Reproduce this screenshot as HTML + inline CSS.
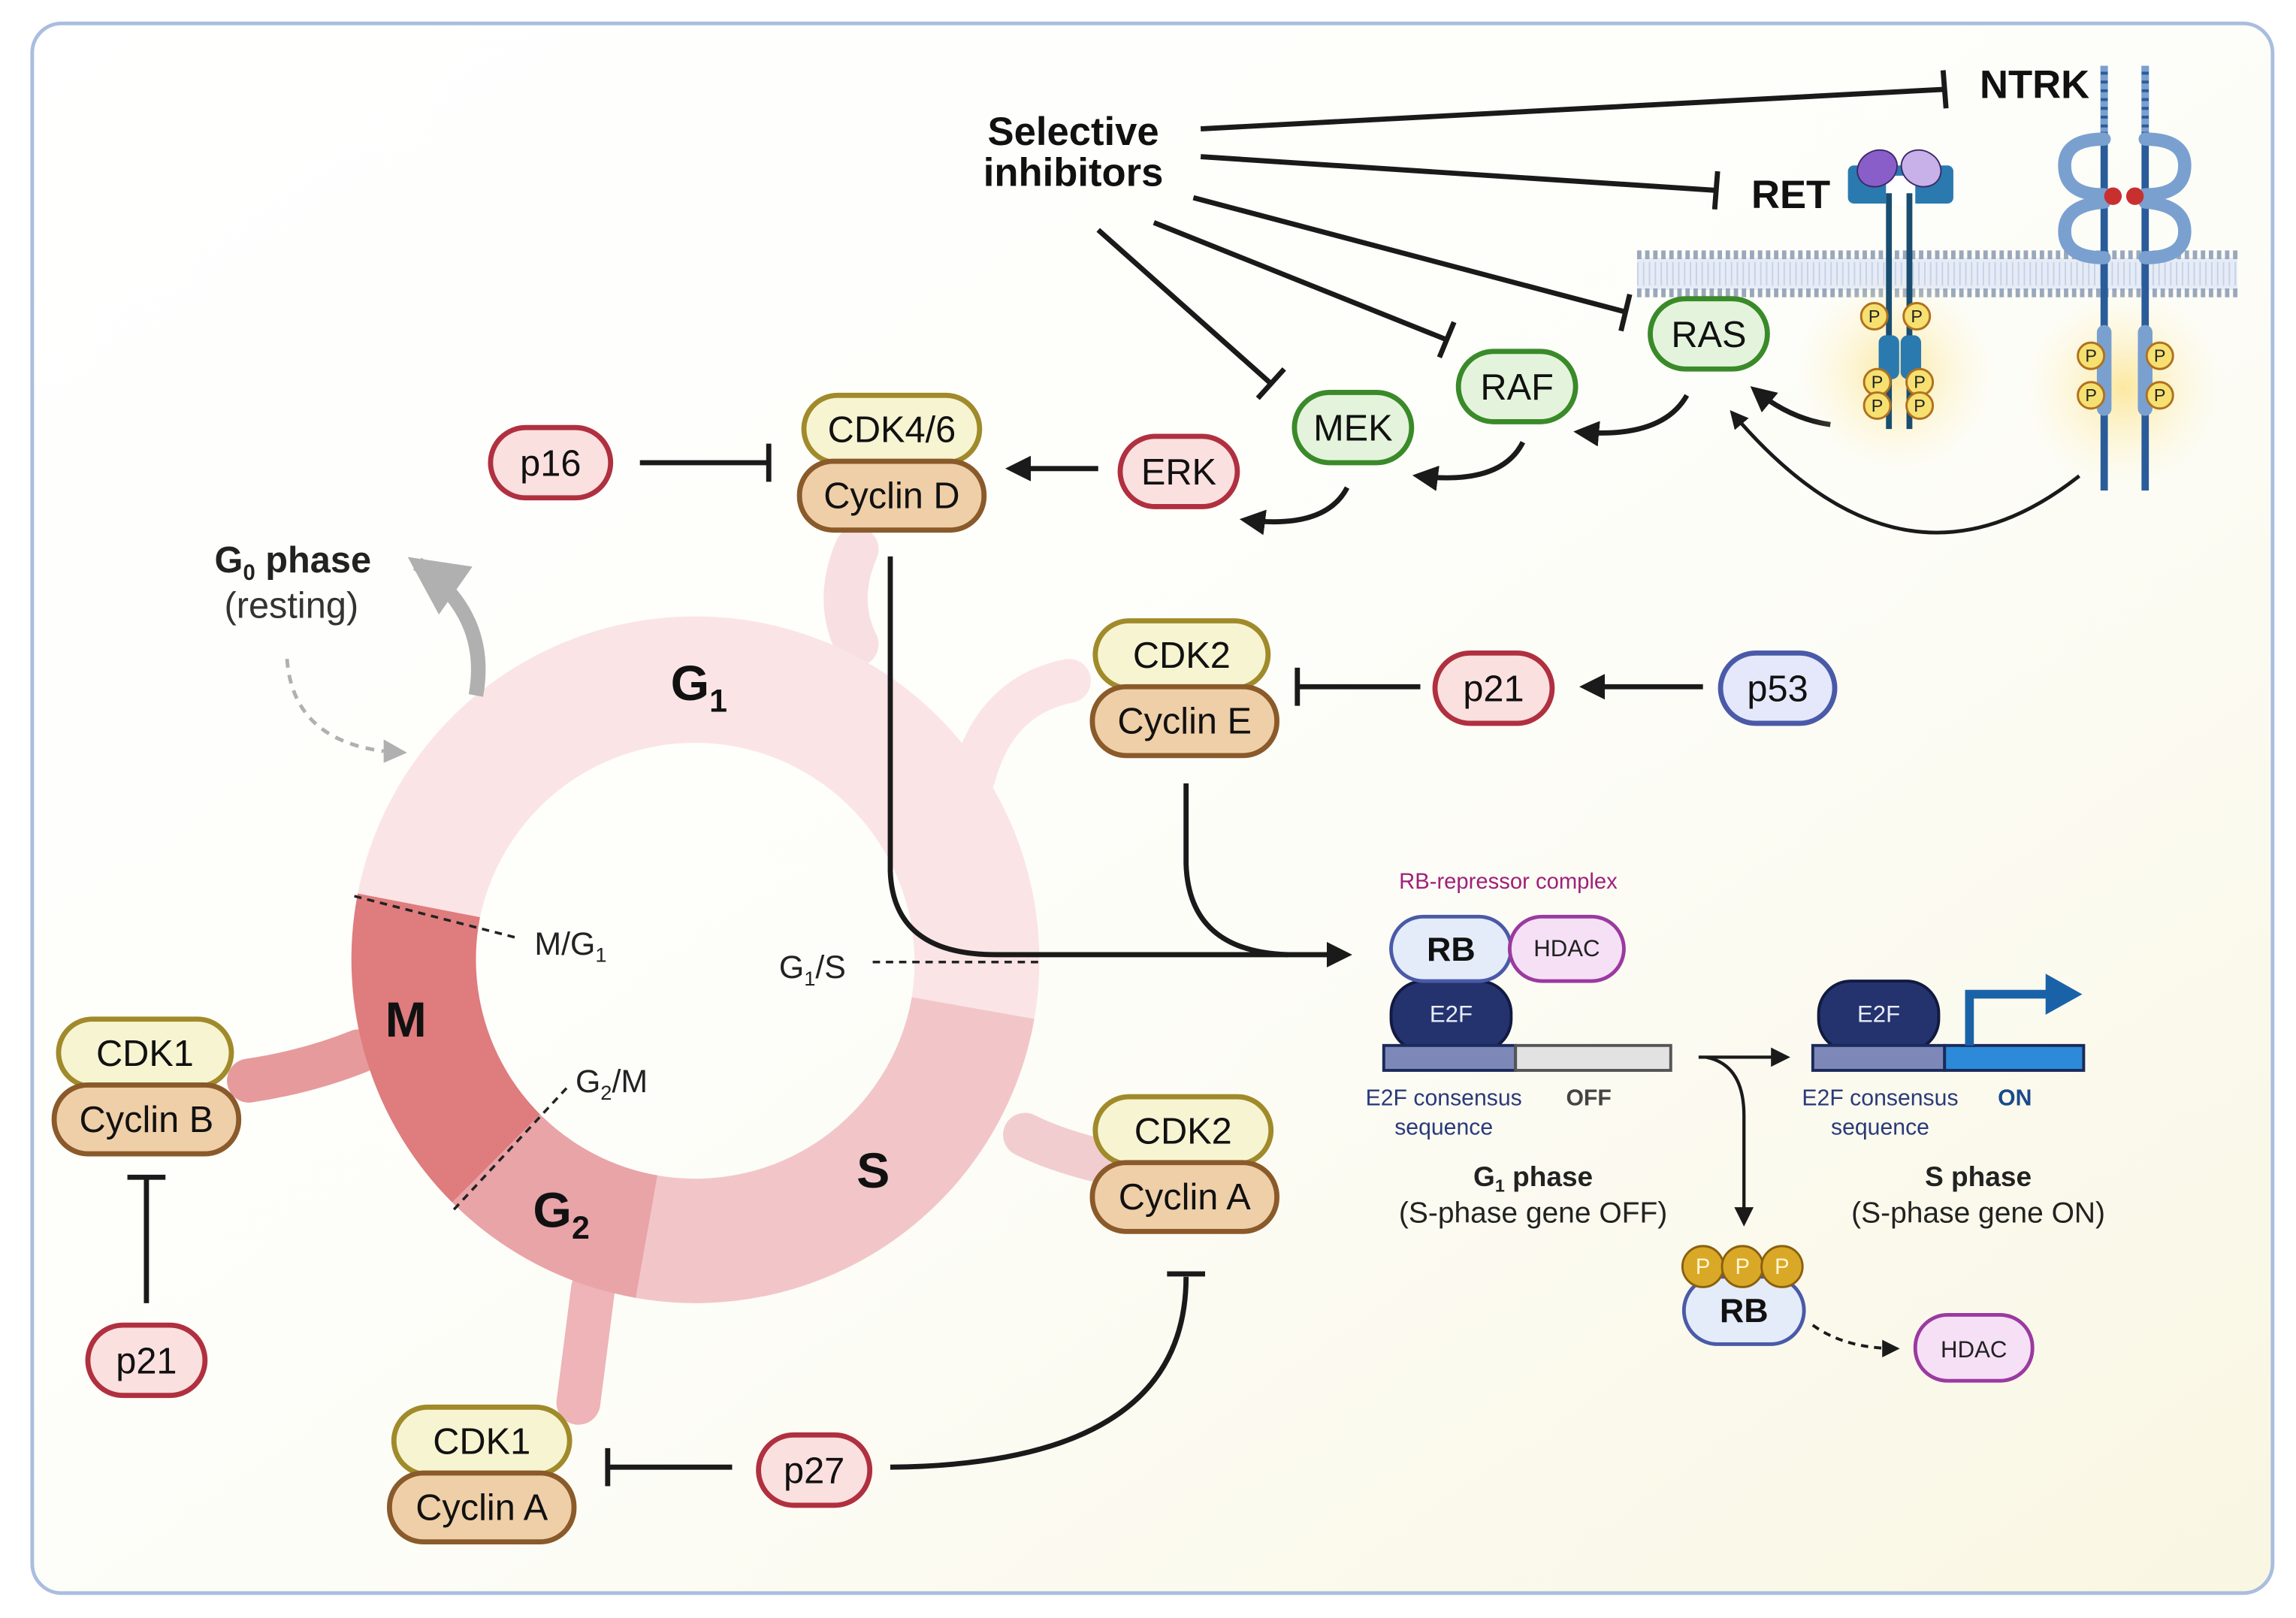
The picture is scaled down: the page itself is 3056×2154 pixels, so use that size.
<!DOCTYPE html>
<html><head><meta charset="utf-8"><style>
html,body{margin:0;padding:0;background:#fff;}
svg{display:block;}
text{font-family:"Liberation Sans",Arial,sans-serif;}
</style></head><body>
<svg width="3056" height="2154" viewBox="0 0 1568 1105" preserveAspectRatio="none" xmlns="http://www.w3.org/2000/svg">
<defs>
<linearGradient id="bg" x1="0" y1="0" x2="1" y2="1">
<stop offset="0" stop-color="#ffffff"/><stop offset="0.55" stop-color="#fdfdf8"/><stop offset="1" stop-color="#f9f6e2"/>
</linearGradient>
<radialGradient id="glow"><stop offset="0" stop-color="#fbe38a" stop-opacity="0.8"/><stop offset="1" stop-color="#fdf3c8" stop-opacity="0"/></radialGradient>
<marker id="ah" viewBox="0 0 10 10" refX="8" refY="5" markerWidth="5" markerHeight="5" orient="auto-start-reverse"><path d="M0,0 L10,5 L0,10 z" fill="#1a1a1a"/></marker>
<marker id="ahg" viewBox="0 0 10 10" refX="8" refY="5" markerWidth="4" markerHeight="4" orient="auto"><path d="M0,0 L10,5 L0,10 z" fill="#b0b0b0"/></marker>
<marker id="ahs" viewBox="0 0 10 10" refX="8" refY="5" markerWidth="6" markerHeight="6" orient="auto"><path d="M0,0 L10,5 L0,10 z" fill="#1a1a1a"/></marker>
</defs>
<rect x="22" y="16" width="1530" height="1072" rx="20" fill="url(#bg)" stroke="#a9bde0" stroke-width="2.5"/>

<!-- stems -->
<g stroke-linecap="round" fill="none" stroke-width="30">
<path d="M585,375 Q570,410 585,440" stroke="#f8dfe2"/>
<path d="M730,465 Q680,475 665,530" stroke="#fbe4e6"/>
<path d="M748,792 Q720,785 700,775" stroke="#f2cdd0"/>
<path d="M395,958 Q400,920 405,880" stroke="#eeb4b7"/>
<path d="M170,738 Q210,732 245,718" stroke="#e69a9c"/>
</g>

<!-- ring -->
<path d="M244.3,610.2 A235,235 0 0 1 706.4,695.8 L622.7,681.0 A150,150 0 0 0 327.8,626.4 Z" fill="#fbe4e6"/>
<path d="M706.4,695.8 A235,235 0 0 1 434.2,886.4 L449,802.7 A150,150 0 0 0 622.7,681.0 Z" fill="#f2c6c9"/>
<path d="M434.2,886.4 A235,235 0 0 1 308.8,821.2 L368.9,761.1 A150,150 0 0 0 449,802.7 Z" fill="#e9a4a7"/>
<path d="M308.8,821.2 A235,235 0 0 1 244.3,610.2 L327.8,626.4 A150,150 0 0 0 368.9,761.1 Z" fill="#df7c7e"/>

<g stroke="#222" stroke-width="1.8" stroke-dasharray="5,4" fill="none">
<line x1="242" y1="612" x2="355" y2="641"/>
<line x1="596" y1="657" x2="712" y2="657"/>
<line x1="310" y1="826" x2="388" y2="742"/>
</g>
<text x="365" y="652" font-size="22" fill="#222">M/G<tspan font-size="14" dy="5">1</tspan></text>
<text x="532" y="668" font-size="22" fill="#222">G<tspan font-size="14" dy="5">1</tspan><tspan dy="-5">/S</tspan></text>
<text x="393" y="746" font-size="22" fill="#222">G<tspan font-size="14" dy="5">2</tspan><tspan dy="-5">/M</tspan></text>
<text x="458" y="478" font-size="34" font-weight="bold" fill="#111">G<tspan font-size="22" dy="8">1</tspan></text>
<text x="585" y="811" font-size="34" font-weight="bold" fill="#111">S</text>
<text x="364" y="838" font-size="34" font-weight="bold" fill="#111">G<tspan font-size="22" dy="8">2</tspan></text>
<text x="263" y="708" font-size="34" font-weight="bold" fill="#111">M</text>

<!-- G0 -->
<text x="200" y="391" font-size="25" font-weight="bold" text-anchor="middle" fill="#222">G<tspan font-size="15" dy="5">0</tspan><tspan dy="-5"> phase</tspan></text>
<text x="199" y="422" font-size="25" text-anchor="middle" fill="#333">(resting)</text>
<path d="M325,475 Q335,420 285,385" stroke="#b0b0b0" stroke-width="10" fill="none" marker-end="url(#ahg)"/>
<path d="M196,450 Q200,505 262,513" stroke="#b0b0b0" stroke-width="2.5" stroke-dasharray="6,5" fill="none"/>
<path d="M262,505 L278,514 L262,521 z" fill="#b0b0b0"/>

<!-- connectors -->
<g stroke="#1a1a1a" stroke-width="3.5" fill="none">
<line x1="437" y1="316" x2="525" y2="316"/><line x1="525" y1="303" x2="525" y2="329"/>
<line x1="750" y1="320" x2="690" y2="320" marker-end="url(#ah)"/>
<path d="M920,333 Q905,362 850,355" marker-end="url(#ah)"/>
<path d="M1040,302 Q1025,332 968,325" marker-end="url(#ah)"/>
<path d="M1152,270 Q1135,300 1078,295" marker-end="url(#ah)"/>
<path d="M1250,290 Q1222,286 1198,266" marker-end="url(#ah)"/>
<path d="M1420,325 Q1300,420 1183,282" marker-end="url(#ah)" stroke-width="2.5"/>
<path d="M608,380 L608,595 Q610,652 680,652 L920,652" marker-end="url(#ah)"/>
<path d="M810,535 L810,590 Q812,650 880,652"/>
<line x1="970" y1="469" x2="886" y2="469"/><line x1="886" y1="456" x2="886" y2="482"/>
<line x1="1163" y1="469" x2="1082" y2="469" marker-end="url(#ah)"/>
<line x1="100" y1="890" x2="100" y2="804"/><line x1="87" y1="804" x2="113" y2="804"/>
<line x1="500" y1="1002" x2="415" y2="1002"/><line x1="415" y1="989" x2="415" y2="1015"/>
<path d="M608,1002 Q810,1000 810,872"/><line x1="797" y1="870" x2="823" y2="870"/>
<!-- inhibitors -->
<line x1="820" y1="88" x2="1328" y2="61"/><line x1="1327" y1="48" x2="1329" y2="74"/>
<line x1="820" y1="107" x2="1172" y2="130"/><line x1="1173" y1="117" x2="1171" y2="143"/>
<line x1="815" y1="135" x2="1110" y2="213"/><line x1="1113" y1="201" x2="1107" y2="226"/>
<line x1="788" y1="152" x2="988" y2="232"/><line x1="993" y1="220" x2="983" y2="244"/>
<line x1="750" y1="157" x2="868" y2="262"/><line x1="877" y1="252" x2="859" y2="272"/>
</g>
<text x="733" y="99" font-size="27" font-weight="bold" text-anchor="middle" fill="#111">Selective</text>
<text x="733" y="127" font-size="27" font-weight="bold" text-anchor="middle" fill="#111">inhibitors</text>
<text x="1352" y="67" font-size="27" font-weight="bold" fill="#111">NTRK</text>
<text x="1196" y="142" font-size="27" font-weight="bold" fill="#111">RET</text>

<!-- membrane -->
<rect x="1118" y="176" width="410" height="22" fill="#e6ecf6"/>
<line x1="1118" y1="174" x2="1528" y2="174" stroke="#9aa8bc" stroke-width="6" stroke-dasharray="3,2.5"/>
<line x1="1118" y1="200" x2="1528" y2="200" stroke="#9aa8bc" stroke-width="6" stroke-dasharray="3,2.5"/>
<line x1="1118" y1="187" x2="1528" y2="187" stroke="#c6d2e8" stroke-width="16" stroke-dasharray="1,3"/>

<circle cx="1295" cy="255" r="68" fill="url(#glow)"/>
<circle cx="1450" cy="265" r="68" fill="url(#glow)"/>

<!-- RET -->
<rect x="1262" y="113" width="72" height="26" rx="4" fill="#2a7ab0"/>
<rect x="1288" y="120" width="20" height="20" fill="#fff"/>
<ellipse cx="1282" cy="115" rx="14" ry="12" fill="#8a5ec8" stroke="#3a2a6a" transform="rotate(-30 1282 115)"/>
<ellipse cx="1312" cy="115" rx="14" ry="12" fill="#c8b0e8" stroke="#3a2a6a" transform="rotate(30 1312 115)"/>
<line x1="1290" y1="132" x2="1290" y2="293" stroke="#1a4e70" stroke-width="4"/>
<line x1="1304" y1="132" x2="1304" y2="293" stroke="#1a4e70" stroke-width="4"/>
<rect x="1283" y="229" width="14" height="30" rx="5" fill="#2a7ab0"/>
<rect x="1298" y="229" width="14" height="30" rx="5" fill="#2a7ab0"/>
<!-- NTRK -->
<g stroke="#2a5c9a" stroke-width="5">
<line x1="1437" y1="45" x2="1437" y2="335"/><line x1="1465" y1="45" x2="1465" y2="335"/></g>
<g fill="#7aa0d0">
<rect x="1432" y="222" width="10" height="62" rx="5"/><rect x="1460" y="222" width="10" height="62" rx="5"/></g>
<g stroke="#7aa0d0" stroke-width="5" stroke-dasharray="4,2"><line x1="1437" y1="45" x2="1437" y2="90"/><line x1="1465" y1="45" x2="1465" y2="90"/></g>
<g stroke="#7aa0d0" stroke-width="9" fill="none" stroke-linecap="round">
<path d="M1437,95 Q1410,95 1410,113 Q1410,133 1437,133"/>
<path d="M1437,138 Q1410,140 1410,158 Q1410,176 1437,176"/>
<path d="M1465,95 Q1492,95 1492,113 Q1492,133 1465,133"/>
<path d="M1465,138 Q1492,140 1492,158 Q1492,176 1465,176"/>
</g>
<circle cx="1443" cy="134" r="6" fill="#c83030"/><circle cx="1458" cy="134" r="6" fill="#c83030"/>
<!-- P -->
<g font-size="12" text-anchor="middle" fill="#222">
<g fill="#f6e070" stroke="#b07020" stroke-width="1.5">
<circle cx="1280" cy="216" r="9"/><circle cx="1309" cy="216" r="9"/>
<circle cx="1282" cy="261" r="9"/><circle cx="1311" cy="261" r="9"/>
<circle cx="1282" cy="277" r="9"/><circle cx="1311" cy="277" r="9"/>
<circle cx="1428" cy="243" r="9"/><circle cx="1428" cy="270" r="9"/>
<circle cx="1475" cy="243" r="9"/><circle cx="1475" cy="270" r="9"/></g>
<text x="1280" y="220">P</text><text x="1309" y="220">P</text>
<text x="1282" y="265">P</text><text x="1311" y="265">P</text>
<text x="1282" y="281">P</text><text x="1311" y="281">P</text>
<text x="1428" y="247">P</text><text x="1428" y="274">P</text>
<text x="1475" y="247">P</text><text x="1475" y="274">P</text>
</g>

<!-- proteins -->
<g font-size="25" text-anchor="middle" fill="#111" stroke-width="3.5">
<rect x="335" y="292" width="82" height="48" rx="24" fill="#fbe0e0" stroke="#b03040"/><text x="376" y="325">p16</text>
<rect x="765" y="298" width="80" height="48" rx="24" fill="#fbe0e0" stroke="#b03040"/><text x="805" y="331">ERK</text>
<rect x="980" y="446" width="80" height="48" rx="24" fill="#fbe0e0" stroke="#b03040"/><text x="1020" y="479">p21</text>
<rect x="60" y="905" width="80" height="48" rx="24" fill="#fbe0e0" stroke="#b03040"/><text x="100" y="938">p21</text>
<rect x="518" y="980" width="76" height="48" rx="24" fill="#fbe0e0" stroke="#b03040"/><text x="556" y="1013">p27</text>
<rect x="1175" y="446" width="78" height="48" rx="24" fill="#e4e8fa" stroke="#4a5aa8"/><text x="1214" y="479">p53</text>
<rect x="884" y="268" width="80" height="48" rx="24" fill="#e4f4dc" stroke="#3a8a2a"/><text x="924" y="301">MEK</text>
<rect x="996" y="240" width="80" height="48" rx="24" fill="#e4f4dc" stroke="#3a8a2a"/><text x="1036" y="273">RAF</text>
<rect x="1127" y="204" width="80" height="48" rx="24" fill="#e4f4dc" stroke="#3a8a2a"/><text x="1167" y="237">RAS</text>
</g>
<!-- complexes -->
<g font-size="25" text-anchor="middle" fill="#111" stroke-width="3.5">
<rect x="549" y="270" width="120" height="46" rx="23" fill="#f7f4d2" stroke="#a08a2a"/><text x="609" y="302">CDK4/6</text>
<rect x="546" y="315" width="126" height="47" rx="23" fill="#efcfa8" stroke="#8a5a2a"/><text x="609" y="347">Cyclin D</text>
<rect x="748" y="424" width="118" height="46" rx="23" fill="#f7f4d2" stroke="#a08a2a"/><text x="807" y="456">CDK2</text>
<rect x="746" y="469" width="126" height="47" rx="23" fill="#efcfa8" stroke="#8a5a2a"/><text x="809" y="501">Cyclin E</text>
<rect x="748" y="749" width="120" height="46" rx="23" fill="#f7f4d2" stroke="#a08a2a"/><text x="808" y="781">CDK2</text>
<rect x="746" y="794" width="126" height="47" rx="23" fill="#efcfa8" stroke="#8a5a2a"/><text x="809" y="826">Cyclin A</text>
<rect x="40" y="696" width="118" height="46" rx="23" fill="#f7f4d2" stroke="#a08a2a"/><text x="99" y="728">CDK1</text>
<rect x="37" y="741" width="126" height="47" rx="23" fill="#efcfa8" stroke="#8a5a2a"/><text x="100" y="773">Cyclin B</text>
<rect x="269" y="961" width="120" height="46" rx="23" fill="#f7f4d2" stroke="#a08a2a"/><text x="329" y="993">CDK1</text>
<rect x="266" y="1006" width="126" height="47" rx="23" fill="#efcfa8" stroke="#8a5a2a"/><text x="329" y="1038">Cyclin A</text>
</g>

<!-- RB complex -->
<text x="1030" y="607" font-size="15" text-anchor="middle" fill="#a0207a">RB-repressor complex</text>
<rect x="950" y="670" width="82" height="48" rx="22" fill="#24336e" stroke="#111a40" stroke-width="2"/>
<text x="991" y="698" font-size="16" text-anchor="middle" fill="#e8ecf8">E2F</text>
<rect x="950" y="626" width="82" height="44" rx="22" fill="#e4ecfa" stroke="#4a5aa8" stroke-width="2.5"/>
<text x="991" y="656" font-size="23" font-weight="bold" text-anchor="middle" fill="#111">RB</text>
<rect x="1031" y="626" width="78" height="44" rx="22" fill="#f6e0f6" stroke="#9a3aa0" stroke-width="2.5"/>
<text x="1070" y="653" font-size="16" text-anchor="middle" fill="#222">HDAC</text>
<rect x="945" y="714" width="90" height="17" fill="#7d88b8" stroke="#1a2a5a" stroke-width="2"/>
<rect x="1035" y="714" width="106" height="17" fill="#e2e2e2" stroke="#555" stroke-width="2"/>
<text x="986" y="755" font-size="15.5" text-anchor="middle" fill="#2a3a7a">E2F consensus</text>
<text x="986" y="775" font-size="15.5" text-anchor="middle" fill="#2a3a7a">sequence</text>
<text x="1085" y="755" font-size="15.5" font-weight="bold" text-anchor="middle" fill="#444">OFF</text>
<text x="1047" y="810" font-size="19" font-weight="bold" text-anchor="middle" fill="#222">G<tspan font-size="12" dy="4">1</tspan><tspan dy="-4"> phase</tspan></text>
<text x="1047" y="835" font-size="20" text-anchor="middle" fill="#222">(S-phase gene OFF)</text>
<g stroke="#1a1a1a" stroke-width="2.2" fill="none">
<line x1="1160" y1="722" x2="1220" y2="722" marker-end="url(#ahs)"/>
<path d="M1165,722 Q1191,727 1191,762 L1191,835" marker-end="url(#ahs)"/>
</g>
<rect x="1242" y="670" width="82" height="48" rx="22" fill="#24336e" stroke="#111a40" stroke-width="2"/>
<text x="1283" y="698" font-size="16" text-anchor="middle" fill="#e8ecf8">E2F</text>
<rect x="1238" y="714" width="90" height="17" fill="#7d88b8" stroke="#1a2a5a" stroke-width="2"/>
<rect x="1328" y="714" width="95" height="17" fill="#2c8ad8" stroke="#1a2a5a" stroke-width="2"/>
<path d="M1345,714 L1345,679 L1400,679" stroke="#1a62a8" stroke-width="6" fill="none"/>
<path d="M1397,665 L1422,679 L1397,693 z" fill="#1a62a8"/>
<text x="1284" y="755" font-size="15.5" text-anchor="middle" fill="#2a3a7a">E2F consensus</text>
<text x="1284" y="775" font-size="15.5" text-anchor="middle" fill="#2a3a7a">sequence</text>
<text x="1376" y="755" font-size="15.5" font-weight="bold" text-anchor="middle" fill="#1a4a8a">ON</text>
<text x="1351" y="810" font-size="19" font-weight="bold" text-anchor="middle" fill="#222">S phase</text>
<text x="1351" y="835" font-size="20" text-anchor="middle" fill="#222">(S-phase gene ON)</text>

<!-- pRB -->
<rect x="1150" y="872" width="82" height="46" rx="23" fill="#e4ecfa" stroke="#4a5aa8" stroke-width="2.5"/>
<text x="1191" y="903" font-size="23" font-weight="bold" text-anchor="middle" fill="#111">RB</text>
<g fill="#d9a826" stroke="#8a6010" stroke-width="1.5">
<circle cx="1163" cy="865" r="14"/><circle cx="1190" cy="865" r="14"/><circle cx="1217" cy="865" r="14"/></g>
<g font-size="15" text-anchor="middle" fill="#fff6d0"><text x="1163" y="870">P</text><text x="1190" y="870">P</text><text x="1217" y="870">P</text></g>
<path d="M1238,905 Q1260,921 1295,921" stroke="#1a1a1a" stroke-width="2" stroke-dasharray="5,4" fill="none" marker-end="url(#ahs)"/>
<rect x="1308" y="898" width="80" height="45" rx="22" fill="#f6e0f6" stroke="#9a3aa0" stroke-width="2.5"/>
<text x="1348" y="927" font-size="16" text-anchor="middle" fill="#222">HDAC</text>
</svg>
</body></html>
